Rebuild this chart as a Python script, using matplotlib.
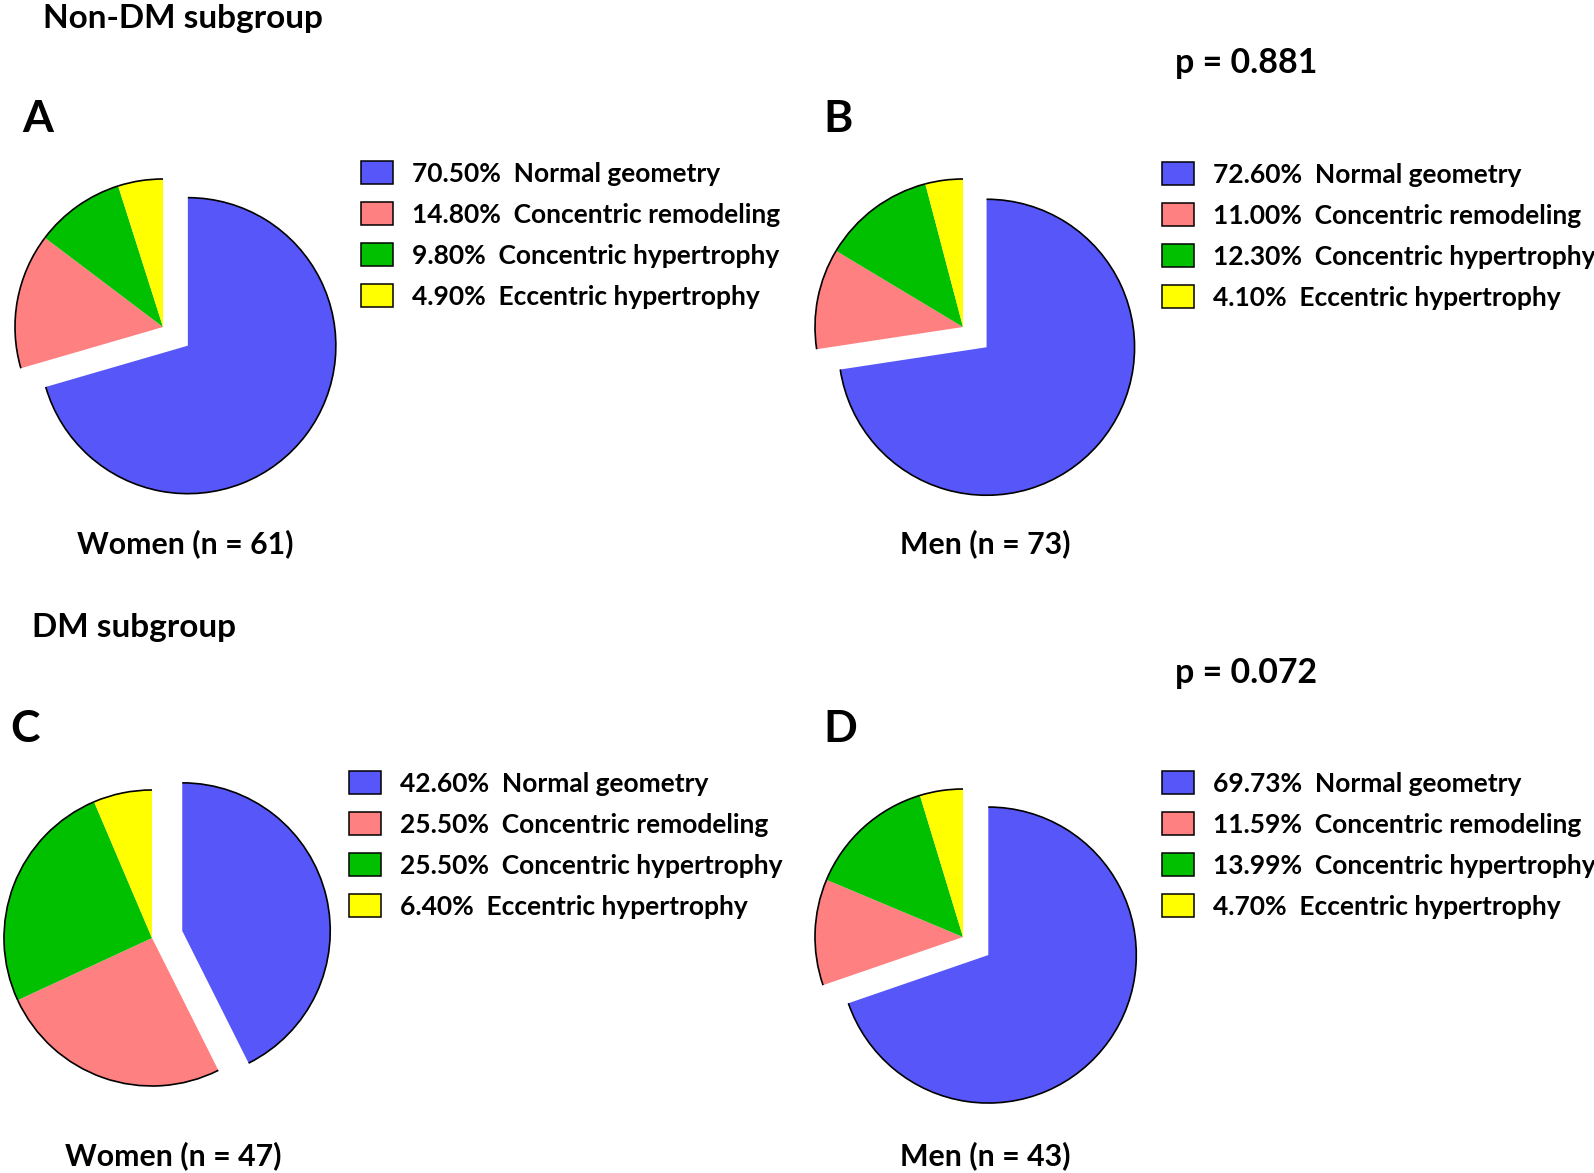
import matplotlib
matplotlib.use("Agg")
import matplotlib.pyplot as plt
import matplotlib.transforms as mtransforms
from matplotlib.patches import Arc, Rectangle

# ------------------ DATA ------------------
categories = ["Normal geometry", "Concentric remodeling",
              "Concentric hypertrophy", "Eccentric hypertrophy"]
colors = ["#5757F9", "#FF8080", "#00C000", "#FFFF00"]

women_non_dm = [70.50, 14.80, 9.80, 4.90]
men_non_dm = [72.60, 11.00, 12.30, 4.10]
women_dm = [42.60, 25.50, 25.50, 6.40]
men_dm = [69.73, 11.59, 13.99, 4.70]

group_labels = ["Women (n = 61)", "Men (n = 73)", "Women (n = 47)", "Men (n = 43)"]
panel_letters = ["A", "B", "C", "D"]
p_values = ["p = 0.881", "p = 0.072"]
subgroups = ["Non-DM subgroup", "DM subgroup"]

# ------------------ LAYOUT (pixels, top-left origin) ------------------
W, H = 1594, 1173
R_PX = 148
FONT = "Lato"

# pie centre, legend box left + first row y, letter xy, label xy
panels = [
    dict(vals=women_non_dm, center=(163, 327), leg=(361, 172), letter=(22, 132), label=(185, 553)),
    dict(vals=men_non_dm, center=(963, 327), leg=(1162, 173), letter=(823, 132), label=(985, 553)),
    dict(vals=women_dm, center=(152, 938), leg=(349, 782), letter=(10, 742), label=(173, 1165)),
    dict(vals=men_dm, center=(963, 937), leg=(1162, 782), letter=(823, 742), label=(985, 1165)),
]

fig = plt.figure(figsize=(W / 100, H / 100), dpi=100)
fig.patch.set_facecolor("white")

# pixel transform with y going down
px = mtransforms.Affine2D().scale(1 / W, -1 / H).translate(0, 1) + fig.transFigure

# axes in units of pie radius
ax = fig.add_axes([0, 0, 1, 1])

for p in panels:
    cx, cy = p["center"]
    wedges, _ = ax.pie(
        p["vals"],
        colors=colors,
        startangle=90,
        counterclock=False,
        explode=[0.21, 0, 0, 0],
        center=(cx / R_PX, (H - cy) / R_PX),
        radius=1,
        frame=True,
        wedgeprops=dict(linewidth=0),
    )
    # black outline only on the outer arc
    for w in wedges:
        ax.add_patch(Arc(w.center, 2 * w.r, 2 * w.r, theta1=w.theta1, theta2=w.theta2,
                         color="black", linewidth=1.2))

    # legend
    lx, ly = p["leg"]
    for i, (c, v, name) in enumerate(zip(colors, p["vals"], categories)):
        yy = ly + 41 * i
        fig.patches.append(Rectangle((lx, yy - 11.5), 32, 23, transform=px,
                                     facecolor=c, edgecolor="black", linewidth=1.1))
        fig.text(lx + 51, yy + 10, f"{v:.2f}%  {name}", transform=px,
                 fontsize=19, fontweight="bold", family=FONT, va="baseline", ha="left")

for p, letter, label in zip(panels, panel_letters, group_labels):
    fig.text(p["letter"][0], p["letter"][1], letter, transform=px, fontsize=32,
             fontweight="bold", family=FONT, va="baseline", ha="left")
    fig.text(p["label"][0], p["label"][1], label, transform=px, fontsize=21.8,
             fontweight="bold", family=FONT, va="baseline", ha="center")

fig.text(43, 28, subgroups[0], transform=px, fontsize=24, fontweight="bold",
         family=FONT, va="baseline", ha="left")
fig.text(32, 637, subgroups[1], transform=px, fontsize=24, fontweight="bold",
         family=FONT, va="baseline", ha="left")
fig.text(1175, 73, p_values[0], transform=px, fontsize=24.4, fontweight="bold",
         family=FONT, va="baseline", ha="left")
fig.text(1175, 683, p_values[1], transform=px, fontsize=24.4, fontweight="bold",
         family=FONT, va="baseline", ha="left")

ax.set_xlim(0, W / R_PX)
ax.set_ylim(0, H / R_PX)
ax.axis("off")

plt.savefig("out.png", dpi=100)
